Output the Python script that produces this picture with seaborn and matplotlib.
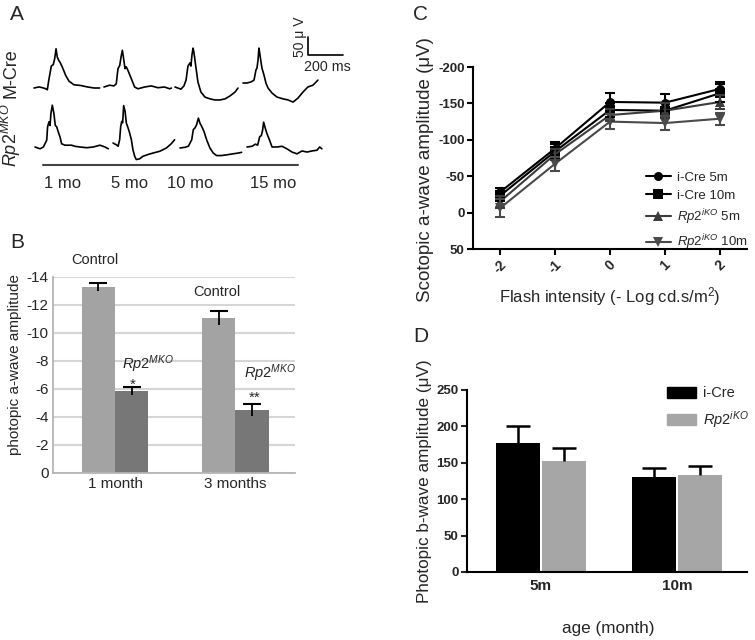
import numpy as np
import pandas as pd
import matplotlib
matplotlib.use('Agg')
import matplotlib.pyplot as plt
from matplotlib.lines import Line2D
from matplotlib.patches import Patch
import seaborn as sns

sns.set_style('white')
plt.rcParams['font.family'] = ['Liberation Sans', 'DejaVu Sans']
plt.rcParams['mathtext.fontset'] = 'custom'
plt.rcParams['mathtext.rm'] = 'Liberation Sans'
plt.rcParams['mathtext.it'] = 'Liberation Sans:italic'
plt.rcParams['mathtext.bf'] = 'Liberation Sans:bold'
plt.rcParams['axes.unicode_minus'] = False

# ---------------- data ----------------
# A: ERG traces, time (ms) and voltage (uV) relative to trace start / baseline
age_labels = ['1 mo', '5 mo', '10 mo', '15 mo']
mcre_t = [
    [0, 29, 47, 67, 76, 86, 99, 110, 118, 126, 133, 141, 148, 162, 181, 200, 228, 267, 304, 343, 375],
    [0, 32, 57, 70, 80, 90, 99, 105, 112, 120, 127, 137, 156, 175, 194, 232, 270, 308, 346, 375, 385],
    [0, 17, 34, 51, 63, 74, 86, 91, 97, 103, 108, 120, 131, 148, 171, 200, 228, 257, 286, 314, 343, 360],
    [0, 23, 46, 63, 74, 80, 86, 91, 97, 108, 120, 131, 143, 166, 194, 228, 257, 286, 314, 343, 371, 400, 428],
]
mcre_v = [
    [0, 3, 1, -2, -5, 26, 61, 65, 81, 109, 86, 77, 72, 58, 35, 19, 9, 7, 3, 0, 0],
    [0, 5, 3, 9, 51, 60, 88, 102, 79, 51, 56, 46, 23, 0, -5, 0, 3, -2, 0, -5, -3],
    [0, -3, -6, 3, 19, 58, 67, 58, 89, 108, 97, 53, 14, -14, -28, -33, -36, -36, -33, -25, -14, -3],
    [0, 0, 3, 8, 36, 42, 64, 97, 78, 42, 22, 0, -14, -28, -39, -44, -47, -53, -42, -25, -11, -6, 8],
]
rp2_t = [
    [0, 29, 48, 67, 72, 80, 86, 91, 99, 108, 116, 124, 133, 143, 152, 171, 190, 209, 228, 257, 295, 333, 371, 400, 419],
    [0, 19, 29, 38, 44, 50, 55, 61, 69, 76, 86, 95, 105, 114, 124, 133, 152, 171, 200, 228, 267, 305, 333, 352],
    [0, 29, 48, 67, 76, 86, 95, 105, 114, 124, 137, 152, 171, 190, 209, 238, 267, 305, 333, 352],
    [0, 29, 48, 61, 72, 82, 89, 95, 105, 114, 129, 143, 171, 200, 228, 257, 286, 314, 343, 371, 400, 415, 428],
]
rp2_v = [
    [0, -5, 0, 19, 56, 70, 60, 93, 116, 93, 60, 56, 42, 28, 9, 5, 5, 5, 2, 0, -2, 0, 5, 0, -5],
    [0, -5, -9, 9, 46, 60, 56, 104, 88, 56, 42, 28, 9, -19, -37, -46, -44, -37, -32, -28, -23, -14, -2, 9],
    [0, 2, 5, 23, 51, 56, 65, 83, 69, 60, 46, 23, 0, -14, -21, -21, -19, -16, -14, -12],
    [0, 2, 8, 5, 28, 32, 46, 69, 51, 37, 19, 0, 0, 2, -5, -14, -19, -11, -14, -11, -9, 0, -5],
]

# B: photopic a-wave
b_months = ['1 month', '3 months']
b_groups = ['Control', 'Rp2MKO']
b_control = [-13.3, -11.1]
b_control_err = [0.3, 0.5]
b_mko = [-5.85, -4.5]
b_mko_err = [0.3, 0.4]

# C: scotopic a-wave vs flash intensity
c_flash = [-2, -1, 0, 1, 2]
c_names = ['i-Cre 5m', 'i-Cre 10m', r'$Rp2^{iKO}$ 5m', r'$Rp2^{iKO}$ 10m']
c_icre5 = [-28, -88, -152, -151, -170]
c_icre10 = [-23, -84, -141, -140, -164]
c_rp2_5 = [-15, -80, -134, -140, -152]
c_rp2_10 = [-6, -67, -125, -123, -129]
c_icre5_err = [6, 9, 12, 12, 10]
c_icre10_err = [7, 10, 10, 10, 12]
c_rp2_5_err = [8, 8, 8, 10, 10]
c_rp2_10_err = [12, 10, 10, 10, 8]

# D: photopic b-wave
d_ages = ['5m', '10m']
d_names = ['i-Cre', r'$Rp2^{iKO}$']
d_icre = [177, 130]
d_icre_err = [23, 13]
d_rp2 = [152, 133]
d_rp2_err = [18, 12.5]

# ---------------- figure ----------------
W, H = 755, 640
fig = plt.figure(figsize=(W / 100, H / 100), dpi=100)


def px_axes(left, top, right, bottom):
    return fig.add_axes([left / W, 1 - bottom / H, (right - left) / W, (bottom - top) / H])


def ftext(x, y, s, **kw):
    kw.setdefault('ha', 'center')
    kw.setdefault('va', 'center')
    fig.text(x / W, 1 - y / H, s, **kw)


# panel letters
for letter, (lx, ly) in zip('ABCD', [(10, 15), (10, 242), (413, 14), (413, 336)]):
    ftext(lx, ly, letter, fontsize=15, ha='left')

# ---- A: traces
axA = px_axes(0, 0, 360, 175)
kt, kv = 200 / 35, 50 / 18   # ms per px, uV per px
axA.set_xlim(0, 360 * kt)
axA.set_ylim(0, 175 * kv)
axA.axis('off')
start_x = [[34, 104, 175, 243], [35, 113, 180, 247]]
base_y = [[88, 87, 87, 83], [147, 143, 148, 147]]
for r, (ts, vs) in enumerate([(mcre_t, mcre_v), (rp2_t, rp2_v)]):
    for i in range(4):
        x0 = start_x[r][i] * kt
        y0 = (175 - base_y[r][i]) * kv
        axA.plot(np.array(ts[i]) + x0, np.array(vs[i]) + y0, color='black', lw=1.2)
# scale bar 50 uV / 200 ms
sb_x, sb_y = 308 * kt, (175 - 55) * kv
axA.plot([sb_x, sb_x, sb_x + 200], [sb_y + 50, sb_y, sb_y], color='black', lw=1.2)
axA.plot([43 * kt, 298 * kt], [(175 - 165) * kv] * 2, color='#444444', lw=1.5)
ftext(300, 37, '50 μ V', fontsize=10, rotation=90)
ftext(327, 67, '200 ms', fontsize=10.3)
ftext(11, 73, 'M-Cre', fontsize=13, rotation=90)
ftext(11, 135, r'$Rp2^{MKO}$', fontsize=13, rotation=90)
for lab, mx in zip(age_labels, [63, 130, 190, 273]):
    ftext(mx, 183, lab, fontsize=12)

# ---- B: bars
dfB = pd.DataFrame({'month': b_months * 2,
                    'group': [b_groups[0]] * 2 + [b_groups[1]] * 2,
                    'amp': b_control + b_mko})
axB = px_axes(53, 277, 295, 473)
sns.barplot(data=dfB, x='month', y='amp', hue='group', hue_order=b_groups,
            palette=['#a3a3a3', '#777777'], saturation=1, width=0.55, gap=0,
            errorbar=None, legend=False, linewidth=0, ax=axB)
for cont, errs in zip(axB.containers, [b_control_err, b_mko_err]):
    for bar, e in zip(cont, errs):
        xc = bar.get_x() + bar.get_width() / 2
        top = bar.get_y() + bar.get_height()
        axB.vlines(xc, top + e, top - e, color='black', lw=1.3)
        axB.plot(xc, top - e, marker='_', ms=13, mew=1.5, color='black')
axB.set_ylim(0, -14)
axB.set_yticks(range(0, -15, -2))
axB.set_xlim(-0.515, 1.494)
axB.yaxis.grid(True, color='#d6d6d6', lw=1.5)
axB.set_axisbelow(True)
for s in ['top', 'right']:
    axB.spines[s].set_visible(False)
for s in ['left', 'bottom']:
    axB.spines[s].set_color('#b5b5b5')
    axB.spines[s].set_linewidth(1.3)
axB.tick_params(length=0, labelsize=11, pad=3)
axB.set_xlabel('')
axB.set_ylabel('photopic a-wave amplitude', fontsize=11, va='center')
axB.yaxis.set_label_coords(-0.157, 0.556)
ftext(95, 260, 'Control', fontsize=10.5)
ftext(217, 292, 'Control', fontsize=10.5)
ftext(148, 364, r'$Rp2^{MKO}$', fontsize=10.5)
ftext(270, 373, r'$Rp2^{MKO}$', fontsize=10.5)
ftext(133, 385, '*', fontsize=11)
ftext(255, 398, '**', fontsize=11)

# ---- C: intensity series
c_vals = [c_icre5, c_icre10, c_rp2_5, c_rp2_10]
c_errs = [c_icre5_err, c_icre10_err, c_rp2_5_err, c_rp2_10_err]
c_colors = ['#000000', '#000000', '#3c3c3c', '#4a4a4a']
c_markers = ['o', 's', '^', 'v']
dfC = pd.DataFrame({'flash': c_flash * 4,
                    'series': np.repeat(c_names, len(c_flash)),
                    'amp': sum(c_vals, [])})
axC = px_axes(473, 67, 747, 249)
sns.lineplot(data=dfC, x='flash', y='amp', hue='series', style='series',
             hue_order=c_names, style_order=c_names, palette=c_colors,
             markers=c_markers, dashes=False, linewidth=1.5, markersize=6.5,
             markeredgewidth=0, errorbar=None, legend=False, ax=axC)
for vals, errs, col in zip(c_vals, c_errs, c_colors):
    axC.errorbar(c_flash, vals, yerr=errs, fmt='none', ecolor=col,
                 elinewidth=1.5, capsize=3.5, capthick=1.5)
axC.set_xlim(-2.49, 2.49)
axC.set_ylim(50, -200)
axC.set_yticks(range(-200, 51, 50))
axC.set_xticks(c_flash)
for s in ['top', 'right']:
    axC.spines[s].set_visible(False)
for s in ['left', 'bottom']:
    axC.spines[s].set_color('black')
    axC.spines[s].set_linewidth(1.5)
axC.tick_params(axis='both', length=4, width=1.5, color='black', direction='out',
                bottom=True, left=True, labelsize=9.5, pad=2)
for lab in axC.get_yticklabels():
    lab.set_fontweight('bold')
for lab in axC.get_xticklabels():
    lab.set_fontweight('bold')
    lab.set_rotation(45)
    lab.set_fontsize(10)
axC.set_ylabel('Scotopic a-wave amplitude (μV)', fontsize=13.5, va='center')
axC.yaxis.set_label_coords(-0.175, 0.434)
axC.set_xlabel('Flash intensity (- Log cd.s/m$^{2}$)', fontsize=12, va='center')
axC.xaxis.set_label_coords(0.5, -0.264)
c_handles = [Line2D([], [], color=c, marker=m, lw=1.5, ms=6.5, mew=0)
             for c, m in zip(c_colors, c_markers)]
axC.legend(c_handles, c_names, loc='upper left', bbox_to_anchor=(0.63, 0.425),
           frameon=False, fontsize=9.5, handlelength=1.9, handletextpad=0.5,
           labelspacing=0.42, borderpad=0, borderaxespad=0)

# ---- D: photopic b-wave bars
dfD = pd.DataFrame({'age': d_ages * 2,
                    'group': [d_names[0]] * 2 + [d_names[1]] * 2,
                    'amp': d_icre + d_rp2})
axD = px_axes(467, 390, 747, 572)
sns.barplot(data=dfD, x='age', y='amp', hue='group', hue_order=d_names,
            palette=['#000000', '#a6a6a6'], saturation=1, width=0.67, gap=0.03,
            errorbar=None, legend=False, linewidth=0, ax=axD)
for cont, errs in zip(axD.containers, [d_icre_err, d_rp2_err]):
    for bar, e in zip(cont, errs):
        xc = bar.get_x() + bar.get_width() / 2
        top = bar.get_y() + bar.get_height()
        axD.vlines(xc, top, top + e, color='black', lw=1.8)
        axD.plot(xc, top + e, marker='_', ms=17, mew=1.8, color='black')
axD.set_ylim(0, 250)
axD.set_yticks(range(0, 251, 50))
axD.set_xlim(-0.544, 1.515)
for s in ['top', 'right']:
    axD.spines[s].set_visible(False)
for s in ['left', 'bottom']:
    axD.spines[s].set_color('black')
    axD.spines[s].set_linewidth(1.5)
axD.tick_params(axis='y', length=4, width=1.5, direction='out', left=True, labelsize=9.5, pad=2)
axD.tick_params(axis='x', length=0, labelsize=11, pad=5)
for lab in axD.get_yticklabels() + axD.get_xticklabels():
    lab.set_fontweight('bold')
axD.set_ylabel('Photopic b-wave amplitude (μV)', fontsize=12.3, va='center')
axD.yaxis.set_label_coords(-0.15, 0.5)
axD.set_xlabel('age (month)', fontsize=12.3, va='center')
axD.xaxis.set_label_coords(0.504, -0.308)
d_handles = [Patch(color=c) for c in ['#000000', '#a6a6a6']]
axD.legend(d_handles, d_names, loc='upper left', bbox_to_anchor=(0.714, 1.02),
           frameon=False, fontsize=10.5, handlelength=2.0, handleheight=0.75,
           handletextpad=0.5, labelspacing=0.6, borderpad=0, borderaxespad=0)

fig.savefig('out.png', dpi=100)
